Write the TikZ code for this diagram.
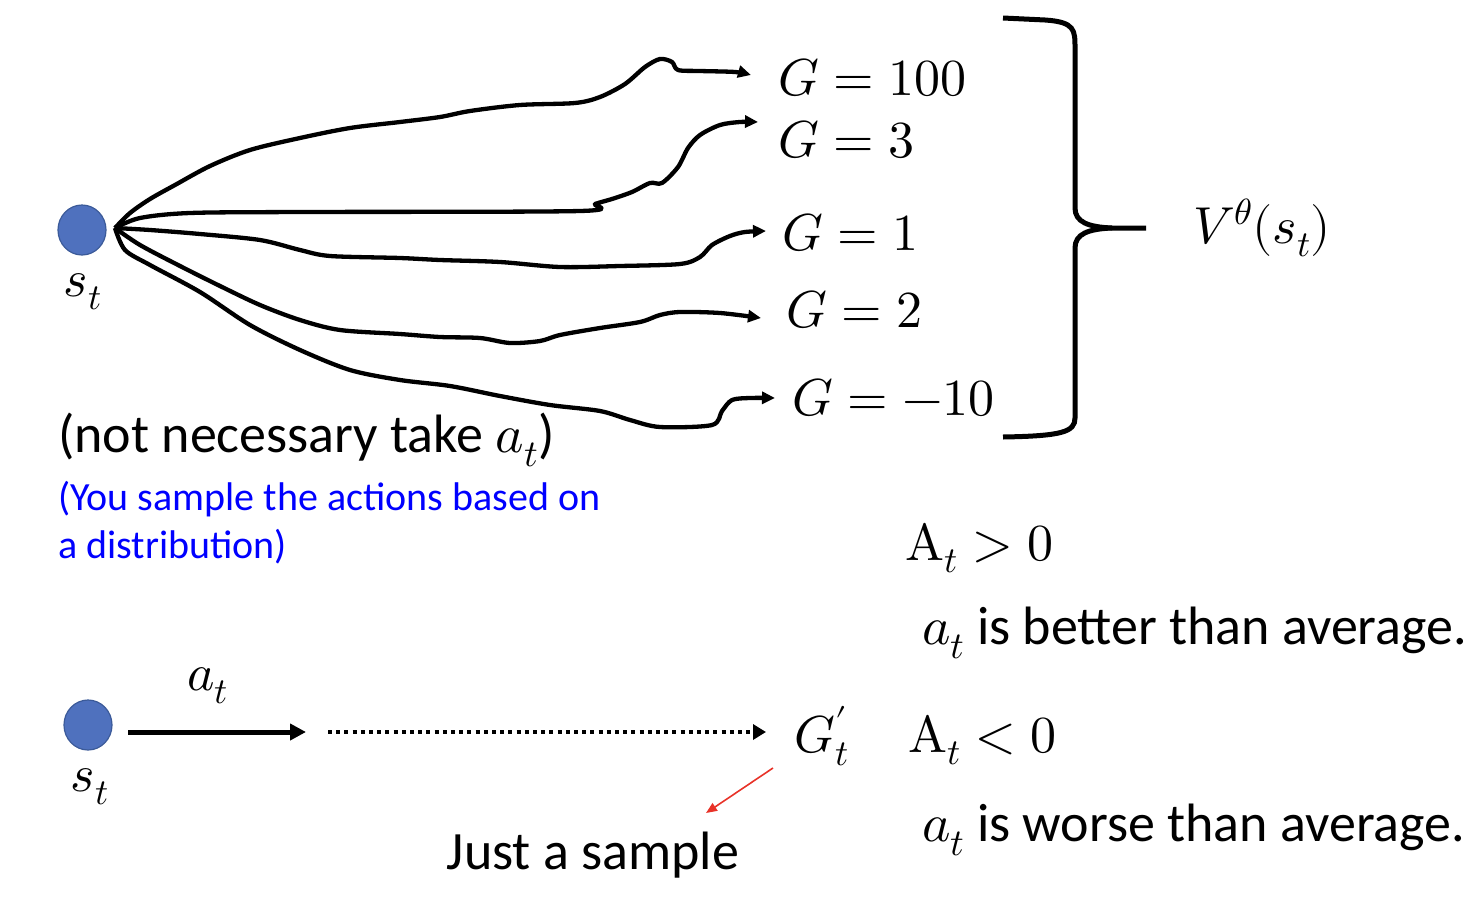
\documentclass[tikz,border=0pt]{standalone}
\usepackage{fontspec}
\usepackage{unicode-math}
\setmainfont{Carlito}
\setmathfont{Latin Modern Math}
\usetikzlibrary{arrows.meta,shapes.geometric}
\definecolor{dotblue}{HTML}{4F71BE}
\definecolor{dotedge}{HTML}{3B5A99}
\definecolor{linkblue}{RGB}{0,0,255}
\definecolor{tipred}{RGB}{232,50,40}
\tikzset{
  dot/.style={ellipse, minimum width=48pt, minimum height=50pt, fill=dotblue, draw=dotedge, line width=1.2pt, inner sep=0pt},
  mathlbl/.style={inner sep=0pt, font=\fontsize{52}{60}\selectfont},
  bodytxt/.style={inner sep=0pt, font=\fontsize{54}{62}\selectfont},
  bluetxt/.style={inner sep=0pt, text=linkblue, font=\fontsize{40}{48}\selectfont, align=left},
  wavy/.style={line width=4.3pt, line join=round, -{Triangle[length=13pt,width=12pt]}},
  brace/.style={line width=5pt},
}
\begin{document}
\begin{tikzpicture}[x=1pt,y=-1pt]
\useasboundingbox (0,0) rectangle (1482,902);

% top state
\node[dot] (s1) at (82,230) {};
\node[mathlbl, anchor=center] (s1l) at (83,292) {$s_t$};
\coordinate (o) at (115,228);

% outcome labels
\node[mathlbl, anchor=west] (g100) at (778,78) {$G=100$};
\node[mathlbl, anchor=west] (g3) at (778,140) {$G=3$};
\node[mathlbl, anchor=west] (g1) at (782,233) {$G=1$};
\node[mathlbl, anchor=west] (g2) at (786,310) {$G=2$};
\node[mathlbl, anchor=west] (gm10) at (792,398) {$G=-10$};

\coordinate (e1) at (751,75);
\coordinate (e2) at (758,122);
\coordinate (e3) at (766,231);
\coordinate (e4) at (761,318);
\coordinate (e5) at (775,398);

% sampled trajectories
\draw[wavy] plot[smooth, tension=0.5] coordinates {(o) (130,213) (150,199) (175,185) (210,166) (250,150) (300,138) (350,128) (400,122) (440,117) (470,111) (520,105) (575,103) (600,97) (625,84) (645,67) (660,59) (672,62) (678,70) (700,71) (735,72) (e1)};
\draw[wavy] plot[smooth, tension=0.5] coordinates {(o) (140,218) (190,213) (300,212) (580,211) (595,204) (612,199) (632,192) (650,183) (662,183) (678,167) (688,148) (700,135) (720,125) (740,122) (e2)};
\draw[wavy] plot[smooth, tension=0.5] coordinates {(o) (150,230) (200,234) (260,240) (300,250) (330,256) (400,258) (440,260) (500,262) (560,267) (620,266) (680,264) (700,257) (712,245) (730,236) (745,232) (e3)};
\draw[wavy] plot[smooth, tension=0.5] coordinates {(o) (140,245) (180,266) (220,286) (260,305) (300,320) (340,330) (400,334) (440,337) (480,338) (510,343) (540,341) (560,335) (600,328) (640,322) (660,315) (680,312) (720,313) (e4)};
\draw[wavy] plot[smooth, tension=0.5] coordinates {(o) (125,250) (150,265) (200,292) (250,325) (300,350) (350,370) (400,380) (450,386) (500,396) (550,405) (600,411) (630,420) (660,427) (712,425) (722,411) (732,400) (750,398) (e5)};

% curly bracket
\coordinate (btop) at (1003,18);
\coordinate (bbot) at (1003,437);
\coordinate (bmid) at (1146,228);
\draw[brace] (btop) -- (1045,20) .. controls (1075,22) and (1075,30) .. (1075,48) -- (1075,208)
  .. controls (1075,222) and (1088,227) .. (1112,228) -- (bmid);
\draw[brace] (1112,228) .. controls (1088,229) and (1075,234) .. (1075,248) -- (1075,418)
  .. controls (1075,432) and (1062,436) .. (bbot);
\node[mathlbl, anchor=west] (v) at (1193,228) {$V^{\theta}(s_t)$};

% notes
\node[bodytxt, anchor=west] (note) at (58,440) {(not necessary take $a_t$)};
\node[bluetxt, anchor=north west] (blue) at (58,481) {(You sample the actions based on\\a distribution)};

% bottom: single sample
\node[dot] (s2) at (88,725) {};
\node[mathlbl] (s2l) at (90,787) {$s_t$};
\coordinate (a0) at (128,732);
\coordinate (a1) at (306,732);
\draw[line width=5pt, -{Triangle[length=16pt,width=16pt]}] (a0) -- (a1);
\node[mathlbl] (al) at (208,686) {$a_t$};
\node[mathlbl, anchor=west] (gp) at (794,736) {$G_t^{\prime}$};
\coordinate (d0) at (328,732);
\coordinate (d1) at (766,732);
\draw[line width=4pt, dash pattern=on 4pt off 4.2pt, -{Triangle[length=13pt,width=15pt]}] (d0) -- (d1);
\node[bodytxt] (just) at (593,855) {Just a sample};
\coordinate (r0) at (773,768);
\coordinate (r1) at (706,813);
\draw[tipred, line width=1.6pt, -{Triangle[length=11pt,width=9pt]}] (r0) -- (r1);

% advantage
\node[mathlbl, anchor=west] (ap) at (905,548) {$\symup{A}_t>0$};
\node[bodytxt, anchor=west] (better) at (922,633) {$a_t$ is better than average.};
\node[mathlbl, anchor=west] (an) at (908,740) {$\symup{A}_t<0$};
\node[bodytxt, anchor=west] (worse) at (922,830) {$a_t$ is worse than average.};
\end{tikzpicture}
\end{document}
